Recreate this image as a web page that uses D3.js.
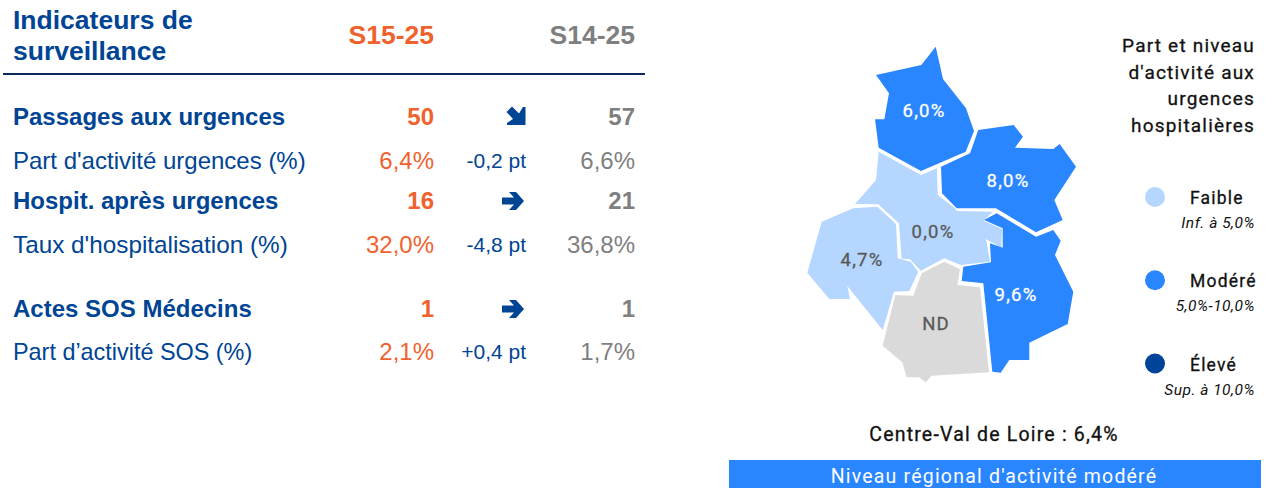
<!DOCTYPE html>
<html>
<head>
<meta charset="utf-8">
<script src="https://cdn.jsdelivr.net/npm/d3@7"></script>
<style>
  html, body { margin: 0; padding: 0; background: #fff; }
  svg { display: block; }
  .tbl { font-family: "Liberation Sans", Arial, sans-serif; }
  .din { font-family: Roboto, sans-serif; letter-spacing: 1.2px; }
  .semi { stroke: currentColor; stroke-width: 0.3px; }
</style>
</head>
<body>
<script>
// table data
var rowLabels = ['Passages aux urgences', "Part d'activité urgences (%)", 'Hospit. après urgences', "Taux d'hospitalisation (%)", 'Actes SOS Médecins', 'Part d’activité SOS (%)']
var currentWeek = ['50', '6,4%', '16', '32,0%', '1', '2,1%']
var previousWeek = ['57', '6,6%', '21', '36,8%', '1', '1,7%']
var changes = ['down', '-0,2 pt', 'flat', '-4,8 pt', 'flat', '+0,4 pt']
var rowBold = [true, false, true, false, true, false]

// map data: outlines in map units
var departments = ['Eure-et-Loir', 'Loiret', 'Loir-et-Cher', 'Indre-et-Loire', 'Indre', 'Cher']
var rates = [6.0, 8.0, 0.0, 4.7, null, 9.6]
var rateLabels = ['6,0%', '8,0%', '0,0%', '4,7%', 'ND', '9,6%']
var outlines = [
  [[76,35],[121.3,25],[135.7,6.7],[143,39],[166,68.3],[174,91],[165.7,111.7],[121,131],[78.7,107.7],[75,79.3],[84.3,79.3],[89,53.3]],
  [[178.3,90],[213.7,85],[223,96.7],[215,107.7],[253.3,109],[259.7,104],[276,126.7],[254.3,160],[262.7,180],[236,192.3],[196,168.3],[156.7,168.3],[142,153.3],[141,126.7],[170,113.3]],
  [[78.7,111.7],[121,135],[137,128.3],[137.7,155],[155,168.3],[156.7,171],[193,171.7],[183.3,180.7],[202,189],[201.3,207.7],[186,199],[190,221.7],[160.7,225],[144.3,218.3],[120.7,230.7],[110,219.3],[101.7,218.7],[99,183.3],[78.3,164.3],[55,164],[76,140]],
  [[53.3,168.3],[77.3,166.7],[96,184],[97.7,218.3],[110.7,221.7],[118.3,231.7],[109.3,251],[94,251.7],[82.7,290],[47.3,246],[50,259],[29.3,259],[7.3,232.7],[21.7,181.7]],
  [[144.3,221.7],[160,229.3],[157.3,245],[180,247.3],[189,332.3],[131.7,335.7],[125.7,342.3],[119,337.3],[106.7,337.3],[102.3,322.3],[82.7,305.7],[95.3,255],[113.3,255.7],[121.7,233.3]],
  [[196.7,173.3],[236,196.7],[253.3,190],[260.7,200.7],[255,215],[273.3,251.7],[267.7,284],[229.3,302.7],[229.3,320],[209.3,320],[200.7,332.7],[192.3,331.7],[183.3,243.3],[161.7,241],[163.3,226.7],[191,222.3],[190,203.3],[202.7,207.7],[202.7,188.3],[184,180]]
]

// legend data
var legendNames = ['Faible', 'Modéré', 'Élevé']
var legendRanges = ['Inf. à 5,0%', '5,0%-10,0%', 'Sup. à 10,0%']
var legendThresholds = [5, 10]
var titleLines = ['Part et niveau', "d'activité aux", 'urgences', 'hospitalières']

var navy = '#004494', orange = '#F0622D', grey = '#7F7F7F'
var levelColor = d3.scaleThreshold().domain(legendThresholds).range(['#B5D6FF', '#2A86FF', '#00439A'])

var svg = d3.select('body').append('svg').attr('width', 1266).attr('height', 488)

// ---- table ----
var tbl = svg.append('g').attr('class', 'tbl')
tbl.selectAll('.head').data(['Indicateurs de', 'surveillance']).join('text')
    .attr('x', 13).attr('y', (d, i) => 29 + i * 31)
    .attr('font-size', 26.5).attr('font-weight', 'bold').attr('fill', navy).text(d => d)
tbl.append('text').attr('x', 434).attr('y', 44).attr('text-anchor', 'end')
    .attr('font-size', 26.5).attr('font-weight', 'bold').attr('fill', orange).text('S15-25')
tbl.append('text').attr('x', 635).attr('y', 44).attr('text-anchor', 'end')
    .attr('font-size', 26.5).attr('font-weight', 'bold').attr('fill', grey).text('S14-25')
tbl.append('line').attr('x1', 3).attr('x2', 645).attr('y1', 74).attr('y2', 74)
    .attr('stroke', '#0B2A5B').attr('stroke-width', 2)

var rowBase = [125, 169, 209, 253, 317, 360]   // text baselines, the rows aren't evenly spaced
var labelSize = [24, 24, 24, 24.3, 24, 23.4]
var arrowFlat = 'M-11,-3.5 L1,-3.5 L-4,-9 L3,-9 L11,0 L3,9 L-4,9 L1,3.5 L-11,3.5 Z'
var arrowDown = 'M-9.5,-4 L-4,-9.5 L3,-2.5 L7,-9 L9.5,-9 L9.5,9 L-9,9 L-9,7 L-3,3 Z'

rowLabels.forEach(function(label, i) {
    var weight = rowBold[i] ? 'bold' : 'normal'
    var row = tbl.append('g').attr('font-size', 24).attr('font-weight', weight)
    row.append('text').attr('x', 13).attr('y', rowBase[i]).attr('font-size', labelSize[i]).attr('fill', navy).text(label)
    row.append('text').attr('x', 434).attr('y', rowBase[i]).attr('text-anchor', 'end').attr('fill', orange).text(currentWeek[i])
    row.append('text').attr('x', 635).attr('y', rowBase[i]).attr('text-anchor', 'end').attr('fill', grey).text(previousWeek[i])
    if (changes[i] == 'down') {
        tbl.append('path').attr('d', arrowDown).attr('fill', navy).attr('transform', `translate(516, ${rowBase[i] - 9})`)
    } else if (changes[i] == 'flat') {
        tbl.append('path').attr('d', arrowFlat).attr('fill', navy).attr('transform', `translate(513, ${rowBase[i] - 8})`)
    } else {
        tbl.append('text').attr('x', 526).attr('y', rowBase[i] - 1).attr('text-anchor', 'end')
            .attr('font-size', 21).attr('fill', navy).text(changes[i])
    }
})

// ---- map ----
var mapX = d3.scaleLinear().domain([0, 280]).range([800, 1080])
var mapY = d3.scaleLinear().domain([0, 350]).range([40, 390])
var outline = d3.line().x(d => mapX(d[0])).y(d => mapY(d[1])).curve(d3.curveLinearClosed)
var labelSpots = [[124, 70], [208, 140], [133, 191], [62, 219], [136, 283.5], [216, 254]]

svg.append('g').selectAll('path').data(departments).join('path')
    .attr('d', (d, i) => outline(outlines[i]))
    .attr('fill', (d, i) => rates[i] === null ? '#DADADA' : levelColor(rates[i]))

svg.append('g').attr('class', 'din').selectAll('text').data(rateLabels).join('text')
    .attr('class', 'semi')
    .attr('x', (d, i) => mapX(labelSpots[i][0]))
    .attr('y', (d, i) => mapY(labelSpots[i][1]))
    .attr('text-anchor', 'middle').attr('dy', '0.36em')
    .attr('font-size', 18.5)
    .style('color', (d, i) => rates[i] === null || rates[i] < legendThresholds[0] ? '#595959' : '#fff')
    .attr('fill', 'currentColor')
    .text(d => d)

// ---- legend ----
var din = svg.append('g').attr('class', 'din').attr('fill', '#111').style('color', '#111')
din.selectAll('.ttl').data(titleLines).join('text')
    .attr('class', 'semi')
    .attr('x', 1255).attr('y', (d, i) => 52 + i * 26.7).attr('text-anchor', 'end')
    .attr('font-size', 19).text(d => d)

var legendY = d3.scalePoint().domain(legendNames).range([197, 363.5])
var legendProbe = [2, 7, 12]   // one rate per level, only to pick its colour
din.selectAll('circle').data(legendNames).join('circle')
    .attr('cx', 1155).attr('cy', d => legendY(d)).attr('r', 10)
    .attr('fill', (d, i) => levelColor(legendProbe[i]))
din.selectAll('.lname').data(legendNames).join('text')
    .attr('class', 'semi')
    .attr('x', 1190).attr('y', d => legendY(d) + 7).attr('font-size', 17.5).text(d => d)
din.selectAll('.lrange').data(legendRanges).join('text')
    .attr('x', 1255).attr('y', (d, i) => legendY(legendNames[i]) + 31).attr('text-anchor', 'end')
    .attr('font-size', 15.5).attr('font-style', 'italic').style('letter-spacing', '0.5px').text(d => d)

din.append('text').attr('class', 'semi').attr('x', 994).attr('y', 441).attr('text-anchor', 'middle')
    .attr('font-size', 19.5).text('Centre-Val de Loire : 6,4%')
svg.append('rect').attr('x', 729).attr('y', 460).attr('width', 532).attr('height', 28).attr('fill', '#2A86FF')
svg.append('text').attr('class', 'din').attr('x', 994).attr('y', 483).attr('text-anchor', 'middle')
    .attr('font-size', 19.5).attr('fill', '#fff').text("Niveau régional d'activité modéré")
</script>
</body>
</html>
